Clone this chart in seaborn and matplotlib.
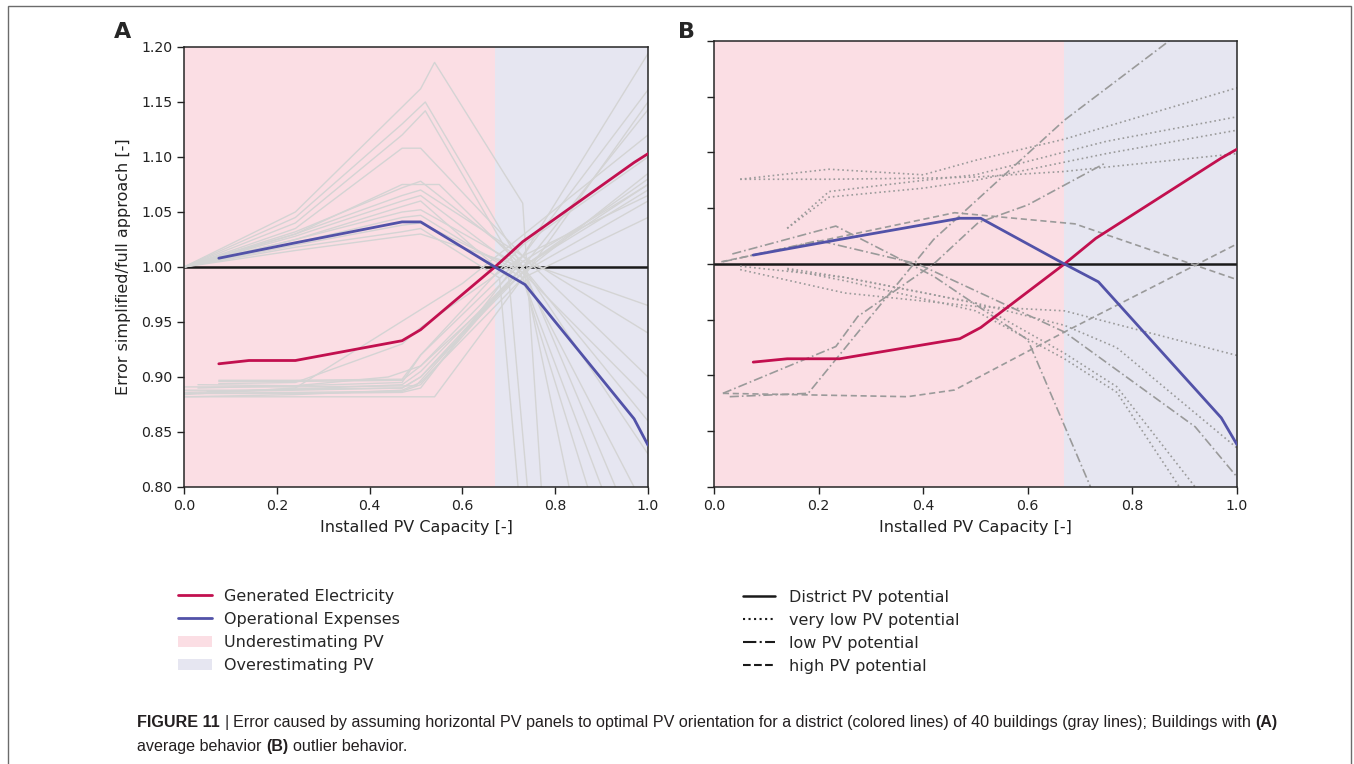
import numpy as np
import pandas as pd
import seaborn as sns
import matplotlib
matplotlib.use("Agg")
from matplotlib import pyplot as plt
from matplotlib.lines import Line2D
from matplotlib.patches import Patch, Rectangle

# district curves (same in both panels)
district_gen_x = [0.075, 0.14, 0.24, 0.47, 0.51, 0.67, 0.73, 0.97, 1.0]
district_gen_y = [0.912, 0.915, 0.915, 0.933, 0.943, 1.0, 1.023, 1.095, 1.103]
district_opex_x = [0.075, 0.24, 0.47, 0.51, 0.67, 0.735, 0.97, 1.0]
district_opex_y = [1.008, 1.022, 1.041, 1.041, 1.0, 0.984, 0.862, 0.838]

# panel A: buildings with average behaviour, generated electricity
a_gen_x = [
    [0.0, 0.24, 0.47, 0.54, 0.73, 1.0],
    [0.03, 0.24, 0.47, 0.51, 0.73, 1.0],
    [0.0, 0.14, 0.24, 0.47, 0.51, 0.73, 1.0],
    [0.075, 0.24, 0.47, 0.51, 0.73, 1.0],
    [0.0, 0.24, 0.50, 0.73, 1.0],
    [0.03, 0.24, 0.47, 0.51, 0.73, 1.0],
    [0.0, 0.24, 0.47, 0.51, 0.73, 1.0],
    [0.05, 0.24, 0.47, 0.51, 0.73, 1.0],
    [0.0, 0.24, 0.60, 1.0],
    [0.075, 0.24, 0.47, 0.51, 0.73, 1.0],
    [0.03, 0.24, 0.44, 0.51, 0.73, 1.0],
    [0.0, 0.24, 0.47, 0.51, 0.73, 1.0],
    [0.075, 0.24, 0.47, 0.51, 0.73, 1.0],
    [0.0, 0.24, 0.47, 0.51, 0.73, 1.0],
]
a_gen_y = [
    [0.882, 0.882, 0.882, 0.882, 0.99, 1.15],
    [0.885, 0.885, 0.886, 0.890, 1.01, 1.194],
    [0.888, 0.888, 0.889, 0.890, 0.900, 1.0, 1.08],
    [0.896, 0.896, 0.897, 0.910, 1.005, 1.075],
    [0.891, 0.891, 0.892, 1.0, 1.07],
    [0.893, 0.892, 0.895, 0.920, 1.01, 1.065],
    [0.886, 0.888, 0.890, 0.900, 0.995, 1.06],
    [0.887, 0.889, 0.893, 0.905, 1.0, 1.143],
    [0.884, 0.890, 0.985, 1.12],
    [0.894, 0.895, 0.930, 0.945, 1.01, 1.161],
    [0.890, 0.892, 0.900, 0.910, 0.995, 1.085],
    [0.882, 0.884, 0.888, 0.895, 0.99, 1.045],
    [0.897, 0.897, 0.898, 0.920, 1.02, 1.10],
    [0.885, 0.886, 0.887, 0.893, 1.0, 1.075],
]

# panel A: buildings with average behaviour, operational expenses
a_opex_x = [
    [0.0, 0.24, 0.51, 0.54, 0.73, 0.77],
    [0.0, 0.24, 0.47, 0.52, 0.73, 0.83],
    [0.0, 0.24, 0.47, 0.52, 0.73, 0.87],
    [0.0, 0.24, 0.47, 0.51, 0.73, 1.0],
    [0.0, 0.24, 0.47, 0.51, 0.73, 1.0],
    [0.0, 0.24, 0.47, 0.55, 0.73, 0.93],
    [0.0, 0.24, 0.47, 0.51, 0.73, 1.0],
    [0.0, 0.24, 0.47, 0.51, 0.73, 0.97],
    [0.0, 0.24, 0.47, 0.51, 0.70, 0.74],
    [0.0, 0.24, 0.47, 0.51, 0.73, 1.0],
    [0.0, 0.24, 0.47, 0.51, 0.73, 0.90],
    [0.0, 0.24, 0.47, 0.51, 0.73, 1.0],
    [0.0, 0.24, 0.47, 0.51, 0.68, 0.72],
    [0.0, 0.24, 0.47, 0.51, 0.73, 1.0],
]
a_opex_y = [
    [1.0, 1.050, 1.162, 1.186, 1.058, 0.80],
    [1.0, 1.045, 1.130, 1.150, 1.000, 0.80],
    [1.0, 1.040, 1.120, 1.142, 0.990, 0.80],
    [1.0, 1.035, 1.108, 1.108, 1.010, 0.90],
    [1.0, 1.032, 1.072, 1.078, 1.005, 0.965],
    [1.0, 1.030, 1.075, 1.075, 1.000, 0.80],
    [1.0, 1.030, 1.065, 1.070, 1.010, 0.94],
    [1.0, 1.028, 1.060, 1.065, 0.995, 0.80],
    [1.0, 1.025, 1.055, 1.060, 0.990, 0.80],
    [1.0, 1.025, 1.050, 1.052, 1.000, 0.86],
    [1.0, 1.022, 1.045, 1.047, 0.990, 0.80],
    [1.0, 1.020, 1.038, 1.040, 0.995, 0.88],
    [1.0, 1.018, 1.032, 1.035, 0.990, 0.80],
    [1.0, 1.015, 1.028, 1.030, 1.000, 0.83],
]

# panel B: outlier buildings
b_x = [
    [0.05, 0.22, 0.40, 0.50, 0.67, 1.0],
    [0.05, 0.22, 0.40, 0.50, 0.67, 1.0],
    [0.14, 0.22, 0.40, 0.50, 0.75, 1.0],
    [0.14, 0.22, 0.40, 0.50, 0.75, 1.0],
    [0.05, 0.25, 0.50, 0.67, 1.0],
    [0.05, 0.25, 0.50, 0.67, 0.77, 1.0],
    [0.14, 0.25, 0.50, 0.67, 0.77, 0.92],
    [0.14, 0.25, 0.50, 0.67, 0.77, 0.89],
    [0.03, 0.18, 0.42, 0.67, 0.87],
    [0.017, 0.233, 0.275, 0.42, 0.505, 0.60, 0.75],
    [0.035, 0.233, 0.42, 0.60, 0.72],
    [0.017, 0.20, 0.39, 0.67, 0.92, 1.0],
    [0.017, 0.37, 0.46, 0.67, 1.0],
    [0.014, 0.46, 0.69, 1.0],
]
b_y = [
    [1.076, 1.085, 1.080, 1.093, 1.112, 1.158],
    [1.076, 1.076, 1.077, 1.078, 1.083, 1.099],
    [1.032, 1.060, 1.068, 1.075, 1.099, 1.120],
    [1.032, 1.065, 1.075, 1.080, 1.110, 1.132],
    [0.995, 0.974, 0.962, 0.958, 0.918],
    [0.998, 0.988, 0.965, 0.945, 0.925, 0.835],
    [0.996, 0.988, 0.965, 0.920, 0.890, 0.80],
    [0.995, 0.985, 0.958, 0.915, 0.885, 0.80],
    [0.881, 0.884, 1.022, 1.129, 1.20],
    [0.884, 0.926, 0.953, 1.0, 1.037, 1.053, 1.091],
    [1.009, 1.034, 0.989, 0.932, 0.80],
    [1.002, 1.021, 1.0, 0.939, 0.854, 0.809],
    [0.884, 0.881, 0.887, 0.939, 1.018],
    [1.002, 1.046, 1.036, 0.986],
]
b_kind = ["very low"] * 8 + ["low"] * 4 + ["high"] * 2

split = 0.67
red = "#C2104F"
blue = "#5252A8"
pink = "#FBDEE4"
lavender = "#E6E6F1"
light_gray = "#D4D4D4"
mid_gray = "#9A9A9A"
ink = "#222222"


def long_table(xs, ys, prefix, kinds=None):
    rows = []
    for i, (x, y) in enumerate(zip(xs, ys)):
        for xv, yv in zip(x, y):
            row = {"x": xv, "y": yv, "line": f"{prefix}{i}"}
            if kinds is not None:
                row["kind"] = kinds[i]
            rows.append(row)
    return pd.DataFrame(rows)


df_a = pd.concat([long_table(a_gen_x, a_gen_y, "g"), long_table(a_opex_x, a_opex_y, "o")])
df_b = long_table(b_x, b_y, "b", b_kind)
df_gen = pd.DataFrame({"x": district_gen_x, "y": district_gen_y})
df_opex = pd.DataFrame({"x": district_opex_x, "y": district_opex_y})

sns.set_theme(style="ticks")
plt.rcParams["font.family"] = ["DejaVu Sans"]
plt.rcParams["axes.edgecolor"] = "#262626"
plt.rcParams["axes.linewidth"] = 1.1

W, H = 1354, 764
fig = plt.figure(figsize=(W / 100, H / 100), dpi=100)


def px_axes(left, top, right, bottom):
    return fig.add_axes([left / W, 1 - bottom / H, (right - left) / W, (bottom - top) / H])


ax_a = px_axes(184, 47, 648, 487)
ax_b = px_axes(714, 41, 1237, 487)

dash_map = {"very low": (1, 1.8), "low": (5.5, 1.8, 1, 1.8), "high": (3.7, 2.2)}

for ax in (ax_a, ax_b):
    ax.axvspan(0, split, color=pink, lw=0, zorder=0)
    ax.axvspan(split, 1, color=lavender, lw=0, zorder=0)
    ax.axhline(1.0, color="#1a1a1a", lw=1.8, zorder=1)

sns.lineplot(data=df_a, x="x", y="y", units="line", estimator=None, sort=False,
             color=light_gray, lw=1.0, ax=ax_a, legend=False, zorder=2)
sns.lineplot(data=df_b, x="x", y="y", units="line", estimator=None, sort=False,
             style="kind", dashes=dash_map, color=mid_gray, lw=1.2, ax=ax_b,
             legend=False, zorder=2)

for ax in (ax_a, ax_b):
    sns.lineplot(data=df_gen, x="x", y="y", color=red, lw=2.0, ax=ax, zorder=3)
    sns.lineplot(data=df_opex, x="x", y="y", color=blue, lw=2.0, ax=ax, zorder=3)
    ax.set_xlim(0, 1)
    ax.set_ylim(0.8, 1.2)
    ax.set_xticks(np.arange(0, 1.01, 0.2))
    ax.set_yticks(np.arange(0.8, 1.201, 0.05))
    ax.set_xticklabels([f"{v:.1f}" for v in np.arange(0, 1.01, 0.2)])
    ax.tick_params(direction="out", length=5, width=1, labelsize=10.2, colors=ink)
    ax.set_xlabel("Installed PV Capacity [-]", fontsize=11.5, color=ink, labelpad=5)

ax_a.set_yticklabels([f"{v:.2f}" for v in np.arange(0.8, 1.201, 0.05)])
ax_b.set_yticklabels([])
ax_a.set_ylabel("Error simplified/full approach [-]", fontsize=11.5, color=ink, labelpad=7)
ax_b.set_ylabel("")

fig.text(123 / W, 1 - 32 / H, "A", fontsize=16, fontweight="bold", ha="center", va="center")
fig.text(686 / W, 1 - 32 / H, "B", fontsize=16, fontweight="bold", ha="center", va="center")

# legends below the panels
left_handles = [
    Line2D([], [], color=red, lw=2),
    Line2D([], [], color=blue, lw=2),
    Patch(facecolor=pink, edgecolor="none"),
    Patch(facecolor=lavender, edgecolor="none"),
]
left_labels = ["Generated Electricity", "Operational Expenses", "Underestimating PV", "Overestimating PV"]
fig.legend(left_handles, left_labels, loc="upper left", bbox_to_anchor=(178 / W, 1 - 589 / H),
           frameon=False, fontsize=11.5, handlelength=2.1, handletextpad=0.8,
           labelspacing=0.5, borderaxespad=0, borderpad=0)

right_handles = [
    Line2D([], [], color="#1a1a1a", lw=1.8),
    Line2D([], [], color="#1a1a1a", lw=1.5, linestyle=":"),
    Line2D([], [], color="#1a1a1a", lw=1.5, linestyle="-."),
    Line2D([], [], color="#1a1a1a", lw=1.5, linestyle="--"),
]
right_labels = ["District PV potential", "very low PV potential", "low PV potential", "high PV potential"]
fig.legend(right_handles, right_labels, loc="upper left", bbox_to_anchor=(743 / W, 1 - 590 / H),
           frameon=False, fontsize=11.5, handlelength=2.0, handletextpad=0.9,
           labelspacing=0.5, borderaxespad=0, borderpad=0)

# frame around figure
fig.patches.append(Rectangle((8 / W, -0.02), 1343 / W, 1.02 - 6 / H, transform=fig.transFigure,
                             fill=False, edgecolor="#6b6b6b", lw=1.0))

# caption with mixed weights
renderer = fig.canvas.get_renderer()
cap_font = ["Liberation Sans", "DejaVu Sans"]
cap_size = 11.6


def text_w(s, weight):
    t = fig.text(0, 0, s, fontsize=cap_size, fontweight=weight, family=cap_font)
    w = t.get_window_extent(renderer).width
    t.remove()
    return w


space_w = text_w("x x", "normal") - text_w("xx", "normal")


def rich_line(x_px, y_px, parts):
    for s, weight, gap in parts:
        fig.text(x_px / W, 1 - y_px / H, s, fontsize=cap_size, fontweight=weight,
                 family=cap_font, va="baseline", color="#231f20")
        x_px += text_w(s, weight) + gap * space_w


rich_line(137, 727, [
    ("FIGURE 11", "bold", 1),
    ("|", "normal", 1),
    ("Error caused by assuming horizontal PV panels to optimal PV orientation for a district "
     "(colored lines) of 40 buildings (gray lines); Buildings with", "normal", 1),
    ("(A)", "bold", 0),
])
rich_line(137, 751, [
    ("average behavior", "normal", 1),
    ("(B)", "bold", 1),
    ("outlier behavior.", "normal", 0),
])

fig.savefig("out.png", dpi=100)
